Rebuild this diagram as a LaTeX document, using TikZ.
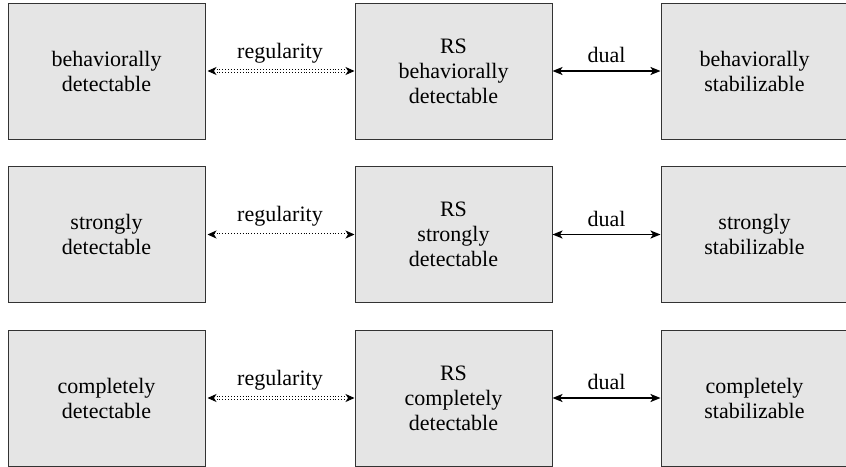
\documentclass[tikz,border=0pt]{standalone}
\usepackage{fontspec}
\setmainfont{Liberation Serif}
\usetikzlibrary{positioning,arrows.meta}
\tikzset{
  gray box/.style={
    fill=gray!20,
    draw=black!80,
    line width=1pt,
    minimum width={#1},
    minimum height={136pt},
    inner sep=0pt,
    align=center,
  },
  regular arrow/.style={
    {Stealth[length=9pt, width=8pt, inset=2.5pt]}-{Stealth[length=9pt, width=8pt, inset=2.5pt]},
    double,
    double distance=2pt,
    line width=0.9pt,
    dotted,
  },
  dual arrow/.style={
    {Stealth[length=10pt, width=8pt, inset=2.5pt]}-{Stealth[length=10pt, width=8pt, inset=2.5pt]},
    line width=1.6pt,
  },
  annotation/.style={
    above=4pt,
    midway,
  }
}

\begin{document}
\begin{tikzpicture}[x=1pt, y=1pt, node distance=26.5pt and 149pt, font=\fontsize{22}{25}\selectfont]
        \useasboundingbox (0,0) rectangle (846,-466);

        \node [gray box=197pt] (bd) at (106.5,-71) {behaviorally\\detectable};
        \node [gray box=197pt, right=of bd] (rsbd) {RS\\behaviorally\\detectable};
        \node [gray box=187pt, right=108pt of rsbd] (bs) {behaviorally\\stabilizable};

        \node [gray box=197pt, below=of bd] (sd) {strongly\\detectable};
        \node [gray box=197pt, right=of sd] (rssd) {RS\\strongly\\detectable};
        \node [gray box=187pt, right=108pt of rssd] (ss) {strongly\\stabilizable};

        \node [gray box=197pt, below=of sd] (cd) {completely\\detectable};
        \node [gray box=197pt, right=of cd] (rscd) {RS\\completely\\detectable};
        \node [gray box=187pt, right=108pt of rscd] (cs) {completely\\stabilizable};

        \draw [regular arrow, shorten <=2pt] (bd) -- node [annotation] {regularity} (rsbd);
        \draw [dual arrow] (rsbd) -- node [annotation] {dual} (bs);
        \draw [regular arrow, shorten <=2pt] (sd) -- node [annotation] {regularity} (rssd);
        \draw [dual arrow] (rssd) -- node [annotation] {dual} (ss);
        \draw [regular arrow, shorten <=2pt] (cd) -- node [annotation] {regularity} (rscd);
        \draw [dual arrow] (rscd) -- node [annotation] {dual} (cs);
    \end{tikzpicture}
\end{document}
